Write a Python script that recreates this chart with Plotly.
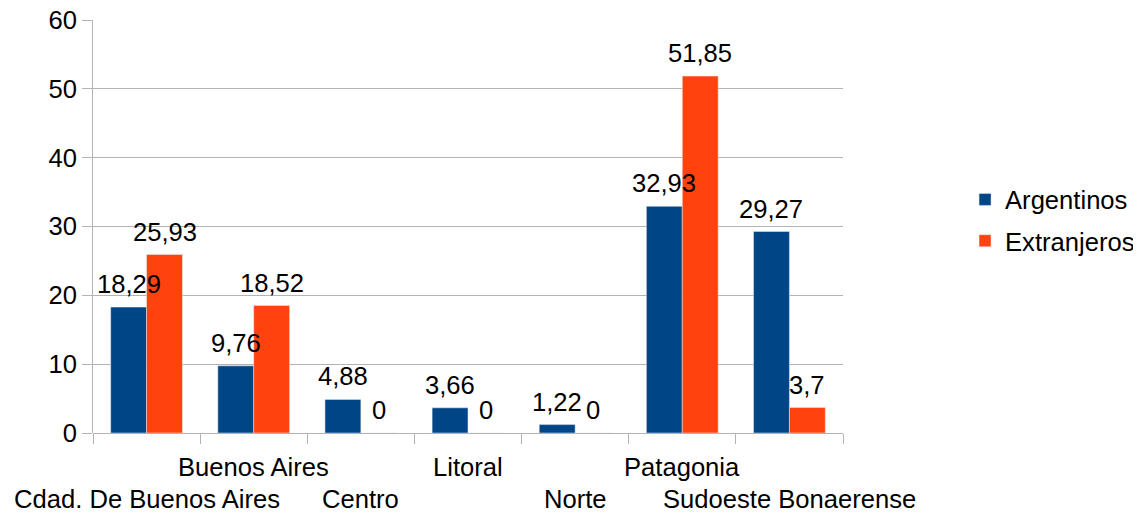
import plotly.graph_objects as go

categories = ["Cdad. De Buenos Aires", "Buenos Aires", "Centro", "Litoral",
              "Norte", "Patagonia", "Sudoeste Bonaerense"]
argentinos = [18.29, 9.76, 4.88, 3.66, 1.22, 32.93, 29.27]
extranjeros = [25.93, 18.52, 0, 0, 0, 51.85, 3.7]
y_ticks = [0, 10, 20, 30, 40, 50, 60]

C_ARG = "#004586"
C_EXT = "#ff420e"
FONT = "Liberation Sans, Arial, sans-serif"
FS = 25.6
BAR_SHIFT = 18


def fmt(v):
    s = ("%.2f" % v).rstrip("0").rstrip(".")
    return s.replace(".", ",")


fig = go.Figure()
fig.add_trace(go.Bar(
    name="Argentinos", x=categories, y=argentinos, marker_color=C_ARG,
    legendgroup="a",
))
fig.add_trace(go.Bar(
    name="Extranjeros", x=categories, y=extranjeros, marker_color=C_EXT,
    legendgroup="b",
))

# value labels (drawn above all bars)
for series, sh in ((argentinos, -BAR_SHIFT), (extranjeros, BAR_SHIFT)):
    for c, v in zip(categories, series):
        fig.add_annotation(
            x=c, y=v, xref="x", yref="y", text=fmt(v), showarrow=False,
            xshift=sh, yshift=7, xanchor="center", yanchor="bottom",
            font=dict(size=FS, color="black", family=FONT),
        )

# staggered category labels
for i, c in enumerate(categories):
    fig.add_annotation(
        x=c, xref="x", yref="paper",
        y=-0.159 if i % 2 == 0 else -0.0835,
        text=c, showarrow=False, yanchor="middle", xanchor="center",
        font=dict(size=FS, color="black", family=FONT),
    )

fig.update_layout(
    width=1133, height=508,
    margin=dict(l=85, r=298, t=12, b=83),
    paper_bgcolor="white", plot_bgcolor="white",
    barmode="group", bargap=0.33, bargroupgap=0,
    font=dict(family=FONT, size=FS, color="black"),
    legend=dict(xref="container", yref="container",
                x=0.8447, y=0.5821, xanchor="left", yanchor="middle",
                traceorder="grouped", tracegroupgap=5,
                font=dict(size=FS, color="black", family=FONT)),
)
fig.update_xaxes(
    type="category", range=[-0.5, 6.5], autorange=False,
    showticklabels=False, showgrid=False, automargin=False,
    showline=False, ticks="outside", tickson="boundaries",
    ticklen=10, tickcolor="#b3b3b3", tickwidth=1,
)
fig.update_yaxes(
    range=[0, 60], tickvals=y_ticks, showgrid=True, gridcolor="#b3b3b3",
    gridwidth=1, showline=True, linecolor="#b3b3b3", linewidth=1,
    ticks="outside", ticklen=10, tickcolor="#b3b3b3", automargin=False,
    ticklabeloverflow="allow",
    tickfont=dict(size=FS, color="black", family=FONT),
    zeroline=True, zerolinecolor="#b3b3b3", zerolinewidth=1,
)

fig.write_html("out.html")
